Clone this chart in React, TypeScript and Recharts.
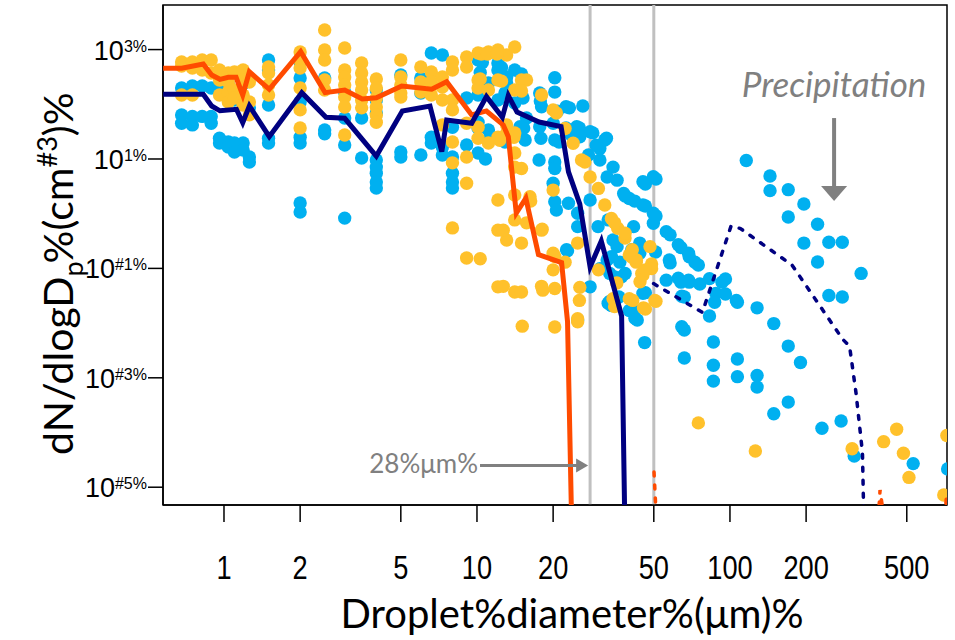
import React from 'react';
import { ComposedChart, XAxis, YAxis, Scatter, Line, ReferenceLine, ReferenceArea } from 'recharts';

// ---------- axes ----------
const xDomain = [0.574, 721];
const yDomain = [4.73e-6, 6530];
const xTicks = [1, 2, 5, 10, 20, 50, 100, 200, 500];
const yTicks = [1e3, 1e1, 1e-1, 1e-3, 1e-5];
const yTickExponents = ['3%', '1%', '#1%', '#3%', '#5%'];
const cutoffDiameters = [28, 50];
const xTitle = 'Droplet%diameter%(μm)%';
const yTitleParts = ['dN/dlogD', 'p', '%(cm', '#3', ')%'];
const cutoffLabel = '28%μm%';
const precipLabel = 'Precipitation';

// ---------- blue droplet spectra (x = diameter µm, y = dN/dlogDp) ----------
const blueFine = [
  [0.68, 199], [0.68, 64], [0.68, 45],
  [0.75, 216], [0.75, 60], [0.75, 42],
  [0.82, 216], [0.82, 60],
  [0.89, 199], [0.89, 60], [0.89, 45],
  [0.96, 216], [0.96, 24], [0.96, 19.6],
  [1.04, 237], [1.04, 20.5], [1.04, 16.6],
  [1.1, 120], [1.1, 19.6], [1.1, 13.4],
  [1.19, 237], [1.19, 19.6], [1.19, 14.6],
  [1.26, 86], [1.26, 10.9], [1.26, 8.8],
  [1.5, 646], [1.5, 424], [1.5, 97], [1.5, 24], [1.5, 19.6],
  [2, 593], [2, 303], [2, 110], [2, 25], [2, 19.6], [2, 1.57], [2, 1.07],
  [2.5, 303], [2.5, 34], [2.5, 29],
  [3, 168], [3, 56], [3, 18], [3, 0.83],
  [3.5, 56], [3.5, 10.4],
  [4, 183], [4, 120], [4, 69], [4, 9.6], [4, 7.1], [4, 5.5], [4, 3.8], [4, 2.95],
  [5, 343], [5, 13.4], [5, 10.9],
  [6, 303], [6, 161], [6, 11.8],
  [6.6, 867], [6.6, 25], [6.6, 19.6],
  [7.3, 797], [7.3, 16.6], [7.3, 11.8],
  [8, 38], [8, 10.9], [8, 5.5], [8, 3.8], [8, 2.95],
  [9.1, 130], [9.1, 18],
  [10.1, 646], [10.1, 148], [10.1, 47], [10.1, 37], [10.1, 12.9],
  [11.1, 245], [11.1, 34], [11.1, 22],
  [12.1, 569], [12.1, 424], [12.1, 120],
  [13.1, 316], [13.1, 245], [13.1, 25],
  [14.1, 424], [14.1, 106],
];

const blueCloud = [
  [10.5, 580], [10.3, 380], [12.5, 470], [12.5, 300], [15, 358], [20.3, 305], [20.3, 167],
  [17.8, 115], [20.8, 75], [23.2, 86], [26.2, 93], [25.4, 37], [28.7, 30], [32.5, 24],
  [30.6, 15.6], [34.5, 7.1], [22.5, 37], [17.9, 24], [17.6, 9.6], [20.3, 8.8], [21.1, 20.5],
  [15.3, 37], [14.9, 27.5], [12.9, 20.5], [11.3, 24], [10.8, 10],
  [12.9, 161], [15.2, 130], [17.7, 161], [22.5, 90], [18, 90], [15.7, 56], [14.8, 39],
  [17.7, 39], [20, 45], [24.8, 39], [28, 31.5], [32, 22.2], [15.5, 22.2], [20.3, 22.2],
  [23.6, 27.5], [25.5, 25.5], [29.6, 17.8], [27.6, 11.8], [30.6, 9.6], [20.3, 6.7],
  [32.7, 4.7], [35.8, 4.1], [38, 2.35], [40, 1.9], [45.3, 3.85], [49.8, 4.75], [45.3, 1.44],
  [49.8, 1.02], [49.8, 0.67], [56, 0.47], [62.5, 0.27], [68.6, 0.19], [72.7, 0.13],
  [62.5, 0.066], [68.6, 0.061], [64.5, 0.031], [20, 3.6], [23, 1.55], [20.3, 1.66],
  [20.6, 1.17], [25, 1.02], [28, 1.78], [25, 0.58], [30.1, 0.58], [33, 0.77], [34.5, 0.33],
  [35.8, 0.25], [32.7, 0.142], [36.7, 0.13], [40.9, 0.22], [41.6, 0.58], [44, 0.29],
  [44, 0.19], [45.3, 0.035], [33.5, 0.025], [40, 0.017], [42.1, 0.0123], [22.6, 0.22],
  [28, 0.046], [35, 0.07], [38.5, 0.081], [33.5, 0.081], [50.8, 0.2], [56, 0.061],
  [64.5, 0.0086], [46.3, 3.5], [51, 4.3], [38.5, 2.1], [42, 1.7], [46.3, 1.38], [51, 0.91],
  [58, 0.41], [64, 0.24], [69, 0.163], [75, 0.115], [58, 0.126], [64, 0.056], [69, 0.056],
  [83, 0.065], [93, 0.056], [88, 0.035], [106, 0.026], [57.6, 0.142], [76, 0.052],
  [96, 0.064], [66, 0.03], [96, 0.034], [87, 0.024], [83, 0.0135], [107, 0.024],
  [128, 0.019], [149, 0.0098], [170, 0.0038], [190, 0.0019], [66, 0.0075], [66, 0.0023],
  [86, 0.0045], [86, 0.0017], [86, 0.00087], [107, 0.0022], [107, 0.00105], [128, 0.0011],
  [128, 0.00068], [170, 0.00036], [149, 0.00022], [231, 0.00012], [275, 0.000162],
  [310, 0.000037], [530, 0.000027], [725, 0.0000215],
  [30.6, 0.099], [34, 0.021], [36.4, 0.03], [41.7, 0.017], [43, 0.0114], [46, 0.0044],
  [46.3, 0.036], [37.3, 0.07], [34, 0.163], [22.8, 0.21], [25, 0.0114], [33, 0.023],
];

const bluePrecip = [
  [116, 9.4], [144, 4.9], [144, 2.64], [170, 2.75], [170, 0.87], [196, 1.5], [222, 0.64],
  [196, 0.29], [246, 0.3], [278, 0.3], [222, 0.131], [330, 0.081], [246, 0.032], [278, 0.03],
];

// ---------- yellow droplet spectra ----------
const yellowFine = [
  [0.68, 593], [0.68, 501], [0.68, 148],
  [0.75, 593], [0.75, 461], [0.75, 148],
  [0.82, 646], [0.82, 424],
  [0.89, 646], [0.89, 373],
  [0.96, 424], [0.96, 278], [0.96, 148],
  [1.04, 373], [1.04, 256], [1.04, 168], [1.04, 110],
  [1.1, 389], [1.1, 183], [1.1, 130],
  [1.19, 424], [1.19, 278], [1.19, 148], [1.19, 97],
  [1.26, 256], [1.26, 110], [1.26, 64],
  [1.5, 481], [1.5, 373], [1.5, 225], [1.5, 148],
  [2, 904], [2, 646], [2, 461], [2, 199], [2, 79], [2, 37],
  [2.5, 2280], [2.5, 984], [2.5, 646], [2.5, 278], [2.5, 183],
  [3, 1069], [3, 424], [3, 316], [3, 225], [3, 136], [3, 89], [3, 27.5],
  [3.5, 569], [3.5, 373], [3.5, 256], [3.5, 183], [3.5, 120], [3.5, 86],
  [4, 290], [4, 199], [4, 130], [4, 89], [4, 64], [4, 47],
  [5, 646], [5, 316], [5, 225], [5, 161], [5, 136],
  [6, 481], [6, 256], [6, 168],
  [6.6, 389], [6.6, 256], [6.6, 148],
  [7.3, 316], [7.3, 207], [7.3, 120], [7.3, 42],
  [8, 593], [8, 424], [8, 120], [8, 79], [8, 20.5], [8, 8.5], [8, 0.55],
  [9.1, 733], [9.1, 481], [9.1, 45], [9.1, 10.9], [9.1, 3.6], [9.1, 0.155],
  [10.1, 867], [10.1, 278], [10.1, 199], [10.1, 38], [10.1, 24],
  [11.1, 904], [11.1, 183], [11.1, 19.6],
  [12.1, 984], [12.1, 278], [12.1, 25], [12.1, 1.78], [12.1, 0.5], [12.1, 0.046],
  [13.1, 797], [13.1, 42], [13.1, 30], [13.1, 0.33],
  [14.1, 1117], [14.1, 183], [14.1, 30], [14.1, 12.9], [14.1, 7.1], [14.1, 2.2], [14.1, 0.77], [14.1, 0.037],
];

const yellowCloud = [
  [15, 278], [15.7, 278], [18, 148], [20, 79], [22.3, 36], [24, 19.4], [25.9, 9.6], [28, 4.7],
  [30.2, 2.9], [32, 1.44], [34, 0.82], [36, 0.54], [38.5, 0.36], [40, 0.176], [42.6, 0.13],
  [44.8, 0.081], [44.1, 0.057], [48.3, 0.25], [49, 0.12], [50.5, 0.026], [40, 0.028],
  [45.5, 0.019], [35.7, 0.054], [25, 0.012], [25, 0.29], [20, 2.7], [18, 0.5], [20, 0.19],
  [22.3, 0.13], [20, 0.094], [18, 0.047], [15, 0.037], [12.7, 0.047], [15, 0.29], [12.7, 0.5],
  [15, 6.7], [16.2, 2.05], [30.2, 0.094], [25.5, 0.045], [34.5, 0.028], [35, 0.02],
  [10.3, 0.15], [18.1, 0.52], [15.1, 0.0088], [20.3, 0.0085], [25, 0.0106], [41.3, 0.026],
  [46.3, 0.018], [51, 0.025], [49, 0.099], [45.3, 0.076], [42.7, 0.142], [41, 0.16],
  [10.4, 830], [11, 830], [12, 830], [15, 175], [10.3, 290], [12.5, 265], [20.6, 69],
  [14, 25], [12.3, 22], [26.7, 8.8], [35, 0.68], [38.5, 0.44], [41.1, 0.22], [46.3, 0.094],
  [16.3, 1.71], [15.7, 0.68], [20.3, 0.165], [18.2, 0.04], [20.3, 0.043], [25.4, 0.026],
];

const yellowPrecip = [
  [75, 0.00015], [126, 0.000046], [304, 0.0000505], [405, 0.000068], [456, 0.000115],
  [485, 0.0000418], [510, 0.0000151], [720, 0.000088], [700, 0.0000072],
];

// ---------- mean spectra ----------
const orangeMean = [
  [0.575, 455], [0.681, 455], [0.828, 546], [0.894, 343], [0.964, 286], [1.04, 312],
  [1.116, 312], [1.186, 148], [1.26, 394], [1.51, 188], [2.01, 916], [2.51, 163], [3.0, 182],
  [3.52, 125], [4.0, 132], [5.04, 216], [6.62, 188], [7.59, 259], [9.53, 63.7], [10.9, 75.5],
  [12.7, 41.9], [13.3, 25.6], [14.3, 1.02], [15.6, 1.92], [17.5, 0.179], [21.6, 0.128],
  [22.8, 0.0107], [24, 1e-7],
];

const navyMean = [
  [0.575, 152], [0.828, 152], [0.894, 93], [0.964, 76], [1.12, 81], [1.186, 46], [1.26, 93],
  [1.51, 25.6], [2.03, 163], [2.53, 57.8], [3.0, 55.5], [4.0, 11.3], [5.07, 75.5], [6.52, 93],
  [7.26, 13.6], [7.59, 51.6], [9.53, 45], [10.9, 138], [12.6, 57.8], [13.3, 145], [14.4, 72],
  [17.6, 47.4], [21.5, 39], [23, 5.8], [25.5, 1.5], [28, 0.106], [31, 0.317], [37.3, 0.0135],
  [38.8, 1e-7],
];

const navyPrecip = [
  [49.9, 0.0527], [77.8, 0.0157], [101, 0.595], [110, 0.536], [176, 0.115], [279, 0.00506],
  [297, 0.0038], [315, 0.00053], [334, 0.000043], [343, 1e-7],
];

const orangePrecip = [
  [50.1, 0.000019], [53, 1e-7], [370, 1e-7], [392, 0.0000089], [449, 1e-7], [660, 1e-7], [720, 0.000008],
];

// ---------- annotation anchors (data coords) ----------
const cutoffArrow = [{ x: 10.28, y: 2.5e-5 }, { x: 27.5, y: 2.5e-5 }];
const precipArrow = [{ x: 258, y: 56 }, { x: 258, y: 1.71 }];

const toPts = (pairs: number[][]) => pairs.map(([x, y]) => ({ x, y }));
const bluePoints = toPts([...blueFine, ...blueCloud, ...bluePrecip]);
const yellowPoints = toPts([...yellowFine, ...yellowCloud, ...yellowPrecip]);

const BLUE = '#00B0F0';
const YELLOW = '#FFC12B';
const ORANGE = '#FF4B00';
const NAVY = '#000080';
const GREY = '#808080';
const SANS = "'Liberation Sans', Arial, sans-serif";
const TITLE = "Lato, 'Open Sans', sans-serif";

const XTick = (props: any) => {
  const { x, y, payload } = props;
  return (
    <text
      transform={`translate(${x},${y + 55}) scale(0.8,1)`}
      textAnchor="middle"
      fontFamily={SANS}
      fontSize={34}
      fill="#000"
    >
      {payload.value}
    </text>
  );
};

const YTick = (props: any) => {
  const { x, y, payload } = props;
  let idx = 0;
  let best = Infinity;
  yTicks.forEach((t, i) => {
    const d = Math.abs(Math.log10(t) - Math.log10(payload.value));
    if (d < best) { best = d; idx = i; }
  });
  return (
    <text x={x} y={y + 10} textAnchor="end" fontFamily={SANS} fontSize={27} fill="#000">
      10
      <tspan fontSize={16} dy={-8}>{yTickExponents[idx]}</tspan>
    </text>
  );
};

const XTitle = (props: any) => {
  const vb = props.viewBox || { x: 163, y: 505, width: 784 };
  return (
    <text x={vb.x + vb.width / 2 + 17} y={vb.y + 123} textAnchor="middle" fontFamily={TITLE} fontSize={40} fill="#000">
      {xTitle}
    </text>
  );
};

const YTitle = (props: any) => {
  const vb = props.viewBox || { x: 0, y: 5, height: 500 };
  const bx = 73;
  const by = vb.y + 450;
  return (
    <text transform={`translate(${bx},${by}) rotate(-90)`} fontFamily={TITLE} fontSize={41} fill="#000">
      {yTitleParts[0]}
      <tspan fontSize={27} dy={10}>{yTitleParts[1]}</tspan>
      <tspan fontSize={41} dy={-10} dx={-2}>{yTitleParts[2]}</tspan>
      <tspan fontSize={27} dy={-16}>{yTitleParts[3]}</tspan>
      <tspan fontSize={41} dy={16}>{yTitleParts[4]}</tspan>
    </text>
  );
};

const CutoffArrowShape = (p: any) => {
  const { x1, y1, x2, y2 } = p;
  return (
    <g>
      <line x1={x1} y1={y1} x2={x2 - 10} y2={y2} stroke={GREY} strokeWidth={3} />
      <polygon points={`${x2},${y2} ${x2 - 12},${y2 - 7} ${x2 - 12},${y2 + 7}`} fill={GREY} />
      <text x={x1 - 2} y={y1 + 8} textAnchor="end" fontFamily={TITLE} fontSize={26} fill={GREY}>
        {cutoffLabel}
      </text>
    </g>
  );
};

const PrecipArrowShape = (p: any) => {
  const { x1, y1, x2, y2 } = p;
  return (
    <g>
      <line x1={x1} y1={y1} x2={x2} y2={y2 - 14} stroke={GREY} strokeWidth={4} />
      <polygon points={`${x2},${y2} ${x2 - 13},${y2 - 15} ${x2 + 13},${y2 - 15}`} fill={GREY} />
      <text x={x1} y={y1 - 21} textAnchor="middle" fontFamily={TITLE} fontStyle="italic" fontSize={35} fill={GREY}>
        {precipLabel}
      </text>
    </g>
  );
};

const dot = (color: string) => (p: any) => (
  <circle cx={p.cx} cy={p.cy} r={6.7} fill={color} />
);

export default function App() {
  return (
    <div style={{ position: 'absolute', left: 0, top: 0, background: '#fff' }}>
      <ComposedChart width={955} height={640} margin={{ top: 5, right: 8, bottom: 0, left: 0 }}>
        <XAxis
          dataKey="x"
          type="number"
          scale="log"
          domain={xDomain}
          allowDataOverflow
          ticks={xTicks}
          tick={<XTick />}
          tickSize={17}
          tickMargin={2}
          height={135}
          stroke="#000"
          axisLine={{ stroke: '#000', strokeWidth: 1.5 }}
          tickLine={{ stroke: '#000', strokeWidth: 1.5 }}
          interval={0}
          label={XTitle}
        />
        <YAxis
          type="number"
          scale="log"
          domain={yDomain}
          allowDataOverflow
          ticks={yTicks}
          tick={<YTick />}
          tickSize={15}
          tickMargin={1}
          width={163}
          axisLine={{ stroke: '#000', strokeWidth: 1.5 }}
          tickLine={{ stroke: '#000', strokeWidth: 1.5 }}
          interval={0}
          label={YTitle}
        />
        <ReferenceArea
          x1={xDomain[0]}
          x2={xDomain[1]}
          y1={yDomain[0]}
          y2={yDomain[1]}
          fill="none"
          fillOpacity={0}
          stroke="#000"
          strokeWidth={1.5}
          zIndex={40}
        />
        {cutoffDiameters.map((d) => (
          <ReferenceLine key={d} x={d} stroke="#C0C0C0" strokeWidth={3} zIndex={50} />
        ))}
        <Scatter data={bluePoints} dataKey="y" shape={dot(BLUE)} isAnimationActive={false} zIndex={600} />
        <Scatter data={yellowPoints} dataKey="y" shape={dot(YELLOW)} isAnimationActive={false} zIndex={610} />
        <Line data={toPts(navyPrecip)} dataKey="y" stroke={NAVY} strokeWidth={3.5} strokeDasharray="4 9" strokeLinecap="round" dot={false} isAnimationActive={false} zIndex={700} />
        <Line data={toPts(orangePrecip)} dataKey="y" stroke={ORANGE} strokeWidth={3.5} strokeDasharray="4 9" strokeLinecap="round" dot={false} isAnimationActive={false} zIndex={700} />
        <Line data={toPts(orangeMean)} dataKey="y" stroke={ORANGE} strokeWidth={5} dot={false} isAnimationActive={false} zIndex={710} />
        <Line data={toPts(navyMean)} dataKey="y" stroke={NAVY} strokeWidth={5} dot={false} isAnimationActive={false} zIndex={720} />
        <ReferenceLine segment={cutoffArrow} shape={CutoffArrowShape} zIndex={800} />
        <ReferenceLine segment={precipArrow} shape={PrecipArrowShape} zIndex={800} />
      </ComposedChart>
    </div>
  );
}
